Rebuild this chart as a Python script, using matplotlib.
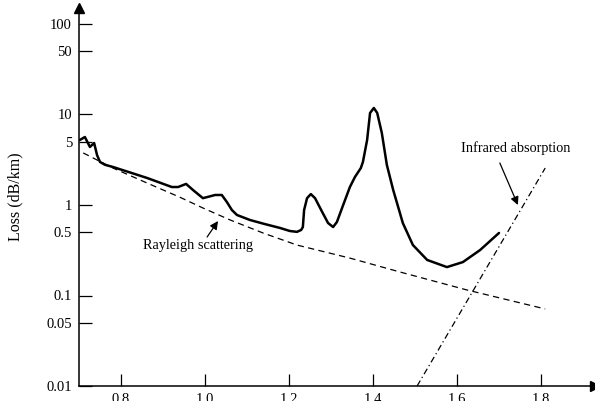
import matplotlib
matplotlib.use("Agg")
import matplotlib.pyplot as plt

plt.rcParams['font.family'] = ['Liberation Serif', 'DejaVu Serif']

# Measured fibre loss curve (wavelength in um, loss in dB/km)
loss_wl = [0.702, 0.714, 0.726, 0.736, 0.743, 0.750, 0.762, 0.781, 0.820, 0.862,
           0.921, 0.936, 0.955, 0.971, 0.995, 1.010, 1.024, 1.040, 1.052, 1.064,
           1.076, 1.107, 1.140, 1.179, 1.202, 1.219, 1.229, 1.233, 1.236, 1.243,
           1.252, 1.262, 1.279, 1.293, 1.305, 1.314, 1.329, 1.345, 1.357, 1.371,
           1.376, 1.386, 1.393, 1.402, 1.410, 1.421, 1.433, 1.448, 1.462, 1.471,
           1.495, 1.529, 1.576, 1.614, 1.655, 1.700]
loss_db = [5.23, 5.64, 4.38, 4.84, 3.56, 2.99, 2.78, 2.63, 2.30, 1.99,
           1.58, 1.58, 1.71, 1.47, 1.19, 1.24, 1.29, 1.29, 1.08, 0.88,
           0.776, 0.683, 0.620, 0.557, 0.516, 0.505, 0.530, 0.571, 0.881, 1.19,
           1.32, 1.19, 0.838, 0.632, 0.571, 0.648, 1.00, 1.58, 2.04, 2.56,
           2.99, 5.23, 10.4, 11.8, 10.4, 6.25, 2.77, 1.47, 0.881, 0.632,
           0.361, 0.247, 0.206, 0.234, 0.318, 0.491]

# Rayleigh scattering limit
ray_wl = [0.710, 0.781, 0.862, 0.940, 0.995, 1.060, 1.138, 1.219, 1.345, 1.464, 1.624, 1.810]
ray_db = [3.76, 2.56, 1.75, 1.22, 0.927, 0.683, 0.491, 0.361, 0.259, 0.182, 0.115, 0.071]

# Infrared absorption
ir_wl = [1.505, 1.810]
ir_db = [0.01, 2.56]

yticks = [0.01, 0.05, 0.1, 0.5, 1, 5, 10, 50, 100]
ytick_labels = ['0.01', '0.05', '0.1', '0.5', '1', '5', '10', '50', '100']
xticks = [0.8, 1.0, 1.2, 1.4, 1.6, 1.8]
xtick_labels = ['0.8', '1.0', '1.2', '1.4', '1.6', '1.8']

fig = plt.figure(figsize=(5.95, 4.01), dpi=100)
ax = fig.add_axes([79/595, 15/401, 516/595, 378/401])

ax.plot(loss_wl, loss_db, color='black', lw=1.8, solid_joinstyle='round', solid_capstyle='round')
ax.plot(ray_wl, ray_db, color='black', lw=0.9, dashes=(5, 3.5))
ax.plot(ir_wl, ir_db, color='black', lw=0.9, dashes=(5, 2.5, 1, 2.5))

ax.set_yscale('log')
ax.set_xlim(0.7, 0.7 + 516/420)
ax.set_ylim(0.01, 10**(2 + 16/90.5))
ax.set_yticks(yticks)
ax.set_yticklabels(ytick_labels)
ax.minorticks_off()
ax.set_xticks(xticks)
ax.set_xticklabels(xtick_labels)
ax.tick_params(direction='in', length=9, width=0.9, labelsize=10.5, pad=5, colors='black')

for s in ['top', 'right']:
    ax.spines[s].set_visible(False)
for s in ['left', 'bottom']:
    ax.spines[s].set_linewidth(1.1)

# axis arrows
ax.plot(1, 0, marker='>', color='black', markersize=7, transform=ax.transAxes, clip_on=False)
ax.plot(0, 1, marker='^', color='black', markersize=7, transform=ax.transAxes, clip_on=False)

ax.set_ylabel('Loss (dB/km)', fontsize=11.5)
ax.yaxis.set_label_coords(-0.108, 0.50)

arrow_kw = dict(arrowstyle='-|>', color='black', lw=0.9, mutation_scale=12, shrinkA=0, shrinkB=0)
ax.text(0.983, 0.361, 'Rayleigh scattering', fontsize=10.3, ha='center', va='center')
ax.annotate('', xy=(1.031, 0.665), xytext=(1.005, 0.443), arrowprops=arrow_kw)
ax.text(1.740, 4.27, 'Infrared absorption', fontsize=10.3, ha='center', va='center')
ax.annotate('', xy=(1.745, 1.0), xytext=(1.702, 2.91), arrowprops=arrow_kw)

fig.savefig('out.png', dpi=100)
